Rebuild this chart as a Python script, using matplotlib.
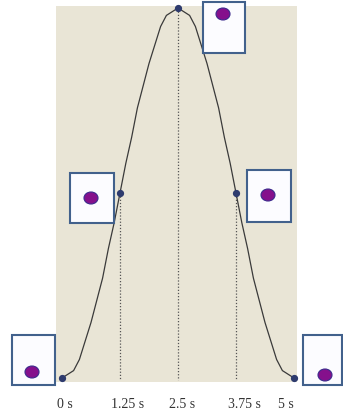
import matplotlib
matplotlib.use('Agg')
from matplotlib import pyplot as plt
from matplotlib.patches import Rectangle, Ellipse

plt.rcParams["font.family"] = ["Liberation Serif", "DejaVu Serif"]

# position over time (normalised height)
times = [i * 0.125 for i in range(41)]
height = [0.00, 0.01, 0.02, 0.05, 0.10, 0.15, 0.21, 0.27, 0.35, 0.42, 0.50,
          0.58, 0.65, 0.73, 0.79, 0.85, 0.90, 0.95, 0.98, 0.99, 1.00,
          0.99, 0.98, 0.95, 0.90, 0.85, 0.79, 0.73, 0.65, 0.58, 0.50,
          0.42, 0.35, 0.27, 0.21, 0.15, 0.10, 0.05, 0.02, 0.01, 0.00]

key_times = [0, 1.25, 2.5, 3.75, 5]
key_height = [0.0, 0.5, 1.0, 0.5, 0.0]
key_labels = ['0 s', '1.25 s', '2.5 s', '3.75 s', '5 s']
guide_times = [1.25, 2.5, 3.75]
guide_height = [0.5, 1.0, 0.5]

# layout (pixels of the 343x412 image)
W, H = 343, 412
X0_PX, PX_PER_S = 62, 46.4
Y0_PX, PX_PER_UNIT = 378, 370
LABEL_X_PX = [57, 111, 169, 228, 278]
LABEL_Y_PX = 404
# box: left, top, right, bottom, dot centre x, dot centre y
BOXES = [
    (12, 335, 55, 385, 32, 372),
    (70, 173, 114, 223, 91, 198),
    (203, 2, 245, 53, 223, 14),
    (247, 170, 291, 222, 268, 195),
    (303, 335, 342, 385, 325, 375),
]

BG = '#e9e5d6'
BOX_EDGE = '#42618c'
DOT = '#85108c'
DOT_EDGE = '#3b2a8c'
CURVE = '#3a3a3a'
MARK = '#2e3b6e'


def fx(x):
    return x / W


def fy(y):
    return 1 - y / H


fig = plt.figure(figsize=(W / 100, H / 100), dpi=100)
ax = fig.add_axes([0, 0, 1, 1])
ax.set_xlim(-X0_PX / PX_PER_S, (W - X0_PX) / PX_PER_S)
ax.set_ylim((Y0_PX - H) / PX_PER_UNIT, Y0_PX / PX_PER_UNIT)
ax.axis('off')

# beige background panel
ax.add_patch(Rectangle((fx(56), fy(382)), fx(297) - fx(56), fy(6) - fy(382),
                       transform=fig.transFigure, facecolor=BG, edgecolor='none', zorder=0))

for t, h in zip(guide_times, guide_height):
    ax.plot([t, t], [h, -0.005], ls=(0, (1, 1.5)), color='#555555', lw=0.9, zorder=2)

ax.plot(times, height, color=CURVE, lw=0.9, zorder=3)
ax.plot(key_times, key_height, 'o', ms=4.2, color=MARK, zorder=4)

for lab, xp in zip(key_labels, LABEL_X_PX):
    fig.text(fx(xp), fy(LABEL_Y_PX), lab, ha='left', va='center', fontsize=10, color='#333333')

for x0, y0, x1, y1, dx, dy in BOXES:
    fig.add_artist(Rectangle((fx(x0), fy(y1)), fx(x1) - fx(x0), fy(y0) - fy(y1),
                             transform=fig.transFigure, facecolor='#fcfcff',
                             edgecolor=BOX_EDGE, lw=1.5, zorder=5))
    fig.add_artist(Ellipse((fx(dx), fy(dy)), 14 / W, 12 / H, transform=fig.transFigure,
                           facecolor=DOT, edgecolor=DOT_EDGE, lw=0.8, zorder=6))

fig.savefig('out.png', dpi=100)
